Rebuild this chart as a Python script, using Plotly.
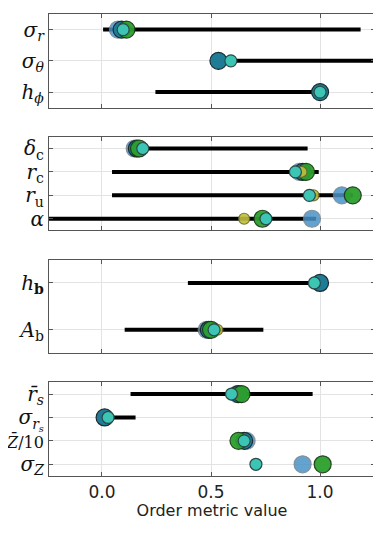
import plotly.graph_objects as go
from plotly.subplots import make_subplots

# Row labels per panel (top to bottom)
LABELS_1 = ["<i>σ</i><sub><i>r</i></sub>", "<i>σ</i><sub><i>θ</i></sub>", "<i>h</i><sub><i>ϕ</i></sub>"]
LABELS_2 = ["<i>δ</i><sub>c</sub>", "<i>r</i><sub>c</sub>", "<i>r</i><sub>u</sub>", "<i>α</i>"]
LABELS_3 = ["<i>h</i><sub><b>b</b></sub>", "<i>A</i><sub>b</sub>"]
LABELS_4 = ["<i>r̄</i><sub><i>s</i></sub>", "<i>σ</i><sub><i>r</i><sub><i>s</i></sub></sub>",
            "<span style='font-size:16px'><i>Z̄</i>/10</span>", "<i>σ</i><sub><i>Z</i></sub>"]

# Range bars (low, high) per row
LO_1 = [0.005, 0.534, 0.245]
HI_1 = [1.186, 1.40, 1.0]
LO_2 = [0.17, 0.046, 0.046, -0.30]
HI_2 = [0.943, 0.994, 1.15, 0.982]
LO_3 = [0.394, 0.104]
HI_3 = [1.0, 0.74]
LO_4 = [0.131, 0.012, None, None]
HI_4 = [0.966, 0.154, None, None]

# Marker values per group and row
BLUE_1 = [0.073, None, None]
TEAL_1 = [0.09, 0.534, 1.0]
GREEN_1 = [0.112, None, None]
YELLOW_1 = [None, None, None]
CYAN_1 = [0.097, 0.591, 1.0]

BLUE_2 = [0.15, 0.905, 1.10, 0.963]
TEAL_2 = [0.16, 0.92, None, None]
GREEN_2 = [0.17, 0.936, 1.15, 0.736]
YELLOW_2 = [None, 0.915, 0.970, 0.652]
CYAN_2 = [0.187, 0.887, 0.951, 0.752]

BLUE_3 = [None, 0.48]
TEAL_3 = [1.0, 0.49]
GREEN_3 = [None, 0.50]
YELLOW_3 = [None, 0.529]
CYAN_3 = [0.974, 0.514]

BLUE_4 = [0.62, None, 0.663, 0.92]
TEAL_4 = [0.626, 0.012, 0.652, None]
GREEN_4 = [0.64, None, 0.626, 1.012]
YELLOW_4 = [0.60, None, None, None]
CYAN_4 = [0.594, 0.028, 0.652, 0.706]

PANELS = [
    (LABELS_1, LO_1, HI_1, [BLUE_1, TEAL_1, GREEN_1, YELLOW_1, CYAN_1]),
    (LABELS_2, LO_2, HI_2, [BLUE_2, TEAL_2, GREEN_2, YELLOW_2, CYAN_2]),
    (LABELS_3, LO_3, HI_3, [BLUE_3, TEAL_3, GREEN_3, YELLOW_3, CYAN_3]),
    (LABELS_4, LO_4, HI_4, [BLUE_4, TEAL_4, GREEN_4, YELLOW_4, CYAN_4]),
]

# group styles: fill, outline, size, opacity
STYLES = [
    ("#4a92c8", "#6f7f8a", 17, 0.85),
    ("#1f7c96", "#1a2a30", 17, 1.0),
    ("#2ca02c", "#1b3a1b", 17, 0.95),
    ("#bfbf3a", "#6a6a30", 11, 0.9),
    ("#3cc4b4", "#2a4a48", 12, 1.0),
]

fig = make_subplots(rows=4, cols=1, shared_xaxes=False, vertical_spacing=0.063)

for i, (labels, lo, hi, groups) in enumerate(PANELS, start=1):
    n = len(labels)
    ys = list(range(n, 0, -1))
    lx, ly = [], []
    for y, a, b in zip(ys, lo, hi):
        if a is None:
            continue
        lx += [a, b, None]
        ly += [y, y, None]
    if lx:
        fig.add_trace(go.Scatter(x=lx, y=ly, mode="lines",
                                 line=dict(color="black", width=4),
                                 showlegend=False, hoverinfo="skip"), row=i, col=1)
    for vals, (fill, edge, size, op) in zip(groups, STYLES):
        px_ = [v for v in vals if v is not None]
        py_ = [y for v, y in zip(vals, ys) if v is not None]
        if not px_:
            continue
        fig.add_trace(go.Scatter(x=px_, y=py_, mode="markers",
                                 marker=dict(color=fill, size=size, opacity=op,
                                             line=dict(color=edge, width=1.2)),
                                 showlegend=False), row=i, col=1)
    fig.update_yaxes(range=[0.5, n + 0.5], tickvals=ys, ticktext=labels,
                     row=i, col=1)
    fig.update_xaxes(showticklabels=(i == 4), row=i, col=1)

fig.update_xaxes(range=[-0.243, 1.252], tickvals=[0.0, 0.5, 1.0],
                 ticktext=["0.0", "0.5", "1.0"], automargin=False,
                 showgrid=True, gridcolor="#e3e3e3", gridwidth=1,
                 zeroline=False, showline=True, linecolor="#555555", linewidth=1.2,
                 mirror="ticks", ticks="inside", ticklen=4, tickcolor="#555555",
                 tickfont=dict(family="DejaVu Sans", size=17, color="#222222"))
fig.update_xaxes(title=dict(text="Order metric value", standoff=2,
                            font=dict(family="DejaVu Sans", size=16, color="#222222")),
                 row=4, col=1)
fig.update_yaxes(showgrid=True, gridcolor="#e3e3e3", gridwidth=1, automargin=False,
                 zeroline=False, showline=True, linecolor="#555555", linewidth=1.2,
                 mirror="ticks", ticks="inside", ticklen=4, tickcolor="#555555",
                 tickfont=dict(family="DejaVu Serif", size=20, color="#111111"))

# page body adds an 8px margin, so the figure is sized to fit inside it
fig.update_layout(width=373, height=525,
                  margin=dict(l=41, r=6, t=6, b=57),
                  plot_bgcolor="white", paper_bgcolor="white")

fig.write_html("out.html")
